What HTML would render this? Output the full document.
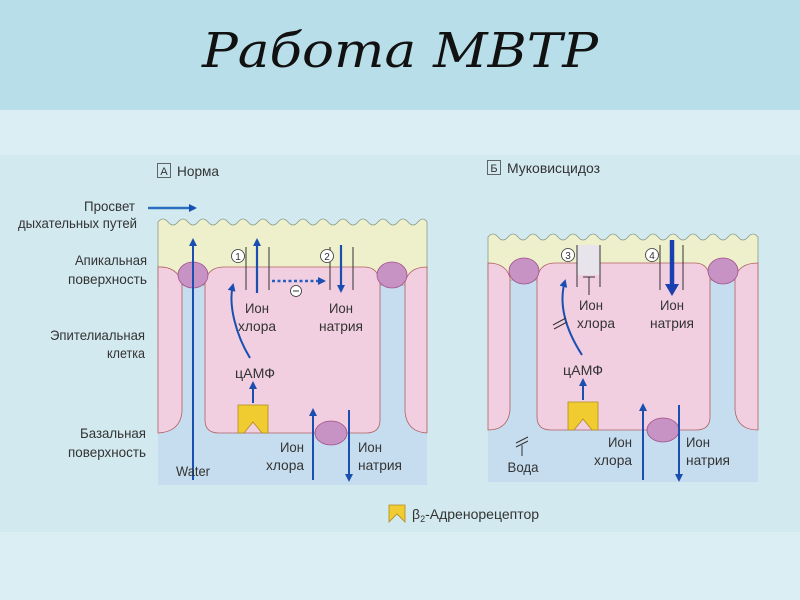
<!DOCTYPE html>
<html><head><meta charset="utf-8"><style>
html,body{margin:0;padding:0;width:800px;height:600px;overflow:hidden;background:#daeef3}
svg{display:block}
text{font-family:"Liberation Sans","DejaVu Sans",sans-serif;fill:#333}
</style></head><body>
<svg width="800" height="600" viewBox="0 0 800 600" xmlns="http://www.w3.org/2000/svg">
<defs>
<marker id="ah" markerWidth="8" markerHeight="8" refX="6" refY="4" orient="auto" markerUnits="userSpaceOnUse"><path d="M0,0 L8,4 L0,8 Z" fill="#1a4fb0"/></marker>
<marker id="ahb" markerWidth="12" markerHeight="14" refX="8" refY="7" orient="auto" markerUnits="userSpaceOnUse"><path d="M0,0 L12,7 L0,14 Z" fill="#1a3fb0"/></marker>
</defs>
<rect x="0" y="0" width="800" height="110" fill="#b8dfe9"/>
<rect x="0" y="110" width="800" height="490" fill="#daeef3"/>
<rect x="0" y="155" width="800" height="377" fill="#d2e9ef"/>
<text x="400" y="67" text-anchor="middle" style="font-family:'DejaVu Serif','Liberation Serif',serif;font-style:italic;font-size:48px;fill:#111" textLength="396" lengthAdjust="spacingAndGlyphs">Работа МВТР</text>

<!-- Panel A -->
<rect x="158" y="267" width="269" height="218" fill="#c6ddef"/>
<path d="M158,222 q5,-6 10,0 q5,6 10,0 q5,-6 10,0 q5,6 10,0 q5,-6 10,0 q5,6 10,0 q5,-6 10,0 q5,6 10,0 q5,-6 10,0 q5,6 10,0 q5,-6 10,0 q5,6 10,0 q5,-6 10,0 q5,6 10,0 q5,-6 10,0 q5,6 10,0 q5,-6 10,0 q5,6 10,0 q5,-6 10,0 q5,6 10,0 q5,-6 10,0 q5,6 10,0 q5,-6 10,0 q5,6 10,0 q5,-6 10,0 q5,6 10,0 q5,-6 9,0 L427,285 L158,285 Z" fill="#eef0cc" stroke="#8a9a8a" stroke-width="0.8"/>
<path d="M158,267 Q176,266 182,282 L182,412 Q180,432 158,433 Z" fill="#f1cfe0" stroke="#b06060" stroke-width="0.8"/>
<path d="M205,282 Q208,267 224,267 L364,267 Q378,267 380,282 L380,420 Q380,433 366,433 L219,433 Q205,433 205,420 Z" fill="#f1cfe0" stroke="#b06060" stroke-width="0.8"/>
<path d="M427,267 Q409,267 405,282 L405,412 Q407,432 427,433 Z" fill="#f1cfe0" stroke="#b06060" stroke-width="0.8"/>
<ellipse cx="193" cy="275" rx="15" ry="13" fill="#c793c4" stroke="#a0508a" stroke-width="0.8"/>
<ellipse cx="392" cy="275" rx="15" ry="13" fill="#c793c4" stroke="#a0508a" stroke-width="0.8"/>
<ellipse cx="331" cy="433" rx="16" ry="12" fill="#c793c4" stroke="#a0508a" stroke-width="0.8"/>
<path d="M238,405 L268,405 L268,433 L262,433 L253,422 L244,433 L238,433 Z" fill="#f0cc30" stroke="#b08a20" stroke-width="0.8"/>
<line x1="193" y1="480" x2="193" y2="240" stroke="#1a4fb0" stroke-width="2" marker-end="url(#ah)"/>
<line x1="148" y1="208" x2="195" y2="208" stroke="#2a6fc0" stroke-width="2.5" marker-end="url(#ah)"/>
<line x1="246" y1="247" x2="246" y2="290" stroke="#333" stroke-width="1"/>
<line x1="269" y1="247" x2="269" y2="290" stroke="#333" stroke-width="1"/>
<line x1="257" y1="293" x2="257" y2="240" stroke="#1a4fb0" stroke-width="2.2" marker-end="url(#ah)"/>
<circle cx="238" cy="256" r="6.5" fill="#fff" stroke="#333" stroke-width="0.8"/><text x="238" y="260" font-size="10" text-anchor="middle">1</text>
<line x1="330" y1="247" x2="330" y2="290" stroke="#333" stroke-width="1"/>
<line x1="353" y1="247" x2="353" y2="290" stroke="#333" stroke-width="1"/>
<line x1="341" y1="245" x2="341" y2="291" stroke="#1a4fb0" stroke-width="2.2" marker-end="url(#ah)"/>
<circle cx="327" cy="256" r="6.5" fill="#fff" stroke="#333" stroke-width="0.8"/><text x="327" y="260" font-size="10" text-anchor="middle">2</text>
<line x1="272" y1="281" x2="324" y2="281" stroke="#2a5fc0" stroke-width="2.5" stroke-dasharray="3,2.5" marker-end="url(#ah)"/>
<circle cx="296" cy="291" r="5.5" fill="#fff" stroke="#333" stroke-width="0.8"/><line x1="293" y1="291" x2="299" y2="291" stroke="#333"/>
<path d="M250,358 C236,335 228,305 233,285" fill="none" stroke="#1a4fb0" stroke-width="2" marker-end="url(#ah)"/>
<line x1="253" y1="403" x2="253" y2="383" stroke="#1a4fb0" stroke-width="2" marker-end="url(#ah)"/>
<g font-size="14" text-anchor="middle" lengthAdjust="spacingAndGlyphs">
<text x="257" y="313" textLength="24" lengthAdjust="spacingAndGlyphs">Ион</text><text x="257" y="331" textLength="38" lengthAdjust="spacingAndGlyphs">хлора</text>
<text x="341" y="313" textLength="24" lengthAdjust="spacingAndGlyphs">Ион</text><text x="341" y="331" textLength="44" lengthAdjust="spacingAndGlyphs">натрия</text>
<text x="255" y="378" textLength="40" lengthAdjust="spacingAndGlyphs">цАМФ</text>
<text x="193" y="476" textLength="34" lengthAdjust="spacingAndGlyphs">Water</text>
</g>
<line x1="313" y1="480" x2="313" y2="410" stroke="#1a4fb0" stroke-width="2" marker-end="url(#ah)"/>
<line x1="349" y1="410" x2="349" y2="480" stroke="#1a4fb0" stroke-width="2" marker-end="url(#ah)"/>
<g font-size="14" text-anchor="end">
<text x="304" y="452" textLength="24" lengthAdjust="spacingAndGlyphs">Ион</text><text x="304" y="470" textLength="38" lengthAdjust="spacingAndGlyphs">хлора</text>
<text x="135" y="211" textLength="51" lengthAdjust="spacingAndGlyphs">Просвет</text><text x="137" y="228" textLength="119" lengthAdjust="spacingAndGlyphs">дыхательных путей</text>
<text x="147" y="265" textLength="72" lengthAdjust="spacingAndGlyphs">Апикальная</text><text x="147" y="284" textLength="79" lengthAdjust="spacingAndGlyphs">поверхность</text>
<text x="145" y="340" textLength="95" lengthAdjust="spacingAndGlyphs">Эпителиальная</text><text x="145" y="358" textLength="38" lengthAdjust="spacingAndGlyphs">клетка</text>
<text x="146" y="438" textLength="66" lengthAdjust="spacingAndGlyphs">Базальная</text><text x="146" y="457" textLength="78" lengthAdjust="spacingAndGlyphs">поверхность</text>
</g>
<g font-size="14"><text x="358" y="452" textLength="24" lengthAdjust="spacingAndGlyphs">Ион</text><text x="358" y="470" textLength="44" lengthAdjust="spacingAndGlyphs">натрия</text></g>
<rect x="157.5" y="163.5" width="13" height="14" fill="none" stroke="#444" stroke-width="0.8"/>
<text x="164" y="175" font-size="11" text-anchor="middle">A</text>
<text x="177" y="176" font-size="14" textLength="42" lengthAdjust="spacingAndGlyphs">Норма</text>

<!-- Panel B -->
<rect x="488" y="263" width="270" height="219" fill="#c6ddef"/>
<path d="M488,237 q5,-6 10,0 q5,6 10,0 q5,-6 10,0 q5,6 10,0 q5,-6 10,0 q5,6 10,0 q5,-6 10,0 q5,6 10,0 q5,-6 10,0 q5,6 10,0 q5,-6 10,0 q5,6 10,0 q5,-6 10,0 q5,6 10,0 q5,-6 10,0 q5,6 10,0 q5,-6 10,0 q5,6 10,0 q5,-6 10,0 q5,6 10,0 q5,-6 10,0 q5,6 10,0 q5,-6 10,0 q5,6 10,0 q5,-6 10,0 q5,6 10,0 q5,-6 10,0 L758,280 L488,280 Z" fill="#eef0cc" stroke="#8a9a8a" stroke-width="0.8"/>
<path d="M488,263 Q506,263 510,278 L510,410 Q508,430 488,430 Z" fill="#f1cfe0" stroke="#b06060" stroke-width="0.8"/>
<path d="M537,278 Q540,263 555,263 L695,263 Q708,263 710,278 L710,417 Q710,430 696,430 L551,430 Q537,430 537,417 Z" fill="#f1cfe0" stroke="#b06060" stroke-width="0.8"/>
<path d="M758,263 Q739,263 735,278 L735,410 Q737,430 758,430 Z" fill="#f1cfe0" stroke="#b06060" stroke-width="0.8"/>
<ellipse cx="524" cy="271" rx="15" ry="13" fill="#c793c4" stroke="#a0508a" stroke-width="0.8"/>
<ellipse cx="723" cy="271" rx="15" ry="13" fill="#c793c4" stroke="#a0508a" stroke-width="0.8"/>
<ellipse cx="663" cy="430" rx="16" ry="12" fill="#c793c4" stroke="#a0508a" stroke-width="0.8"/>
<path d="M568,402 L598,402 L598,430 L592,430 L583,419 L574,430 L568,430 Z" fill="#f0cc30" stroke="#b08a20" stroke-width="0.8"/>
<rect x="577" y="245" width="23" height="30" fill="#e8e4ec"/>
<line x1="577" y1="245" x2="577" y2="287" stroke="#333" stroke-width="1"/>
<line x1="600" y1="245" x2="600" y2="287" stroke="#333" stroke-width="1"/>
<line x1="583" y1="277" x2="595" y2="277" stroke="#333" stroke-width="1"/>
<line x1="589" y1="277" x2="589" y2="295" stroke="#333" stroke-width="1"/>
<circle cx="568" cy="255" r="6.5" fill="#fff" stroke="#333" stroke-width="0.8"/><text x="568" y="259" font-size="10" text-anchor="middle">3</text>
<line x1="660" y1="245" x2="660" y2="290" stroke="#333" stroke-width="1"/>
<line x1="683" y1="245" x2="683" y2="290" stroke="#333" stroke-width="1"/>
<line x1="672" y1="240" x2="672" y2="292" stroke="#1a3fb0" stroke-width="4.5" marker-end="url(#ahb)"/>
<circle cx="652" cy="255" r="6.5" fill="#fff" stroke="#333" stroke-width="0.8"/><text x="652" y="259" font-size="10" text-anchor="middle">4</text>
<path d="M582,355 C566,330 558,305 565,281" fill="none" stroke="#1a4fb0" stroke-width="2" marker-end="url(#ah)"/>
<line x1="553" y1="325" x2="566" y2="318" stroke="#333" stroke-width="1"/>
<line x1="554" y1="329" x2="567" y2="322" stroke="#333" stroke-width="1"/>
<line x1="583" y1="400" x2="583" y2="380" stroke="#1a4fb0" stroke-width="2" marker-end="url(#ah)"/>
<g font-size="14" text-anchor="middle">
<text x="591" y="310" textLength="24" lengthAdjust="spacingAndGlyphs">Ион</text><text x="596" y="328" textLength="38" lengthAdjust="spacingAndGlyphs">хлора</text>
<text x="672" y="310" textLength="24" lengthAdjust="spacingAndGlyphs">Ион</text><text x="672" y="328" textLength="44" lengthAdjust="spacingAndGlyphs">натрия</text>
<text x="583" y="375" textLength="40" lengthAdjust="spacingAndGlyphs">цАМФ</text>
<text x="523" y="472" textLength="31" lengthAdjust="spacingAndGlyphs">Вода</text>
</g>
<line x1="516" y1="443" x2="528" y2="437" stroke="#333" stroke-width="1"/>
<line x1="516" y1="447" x2="528" y2="441" stroke="#333" stroke-width="1"/>
<line x1="522" y1="445" x2="522" y2="456" stroke="#333" stroke-width="1"/>
<line x1="643" y1="480" x2="643" y2="405" stroke="#1a4fb0" stroke-width="2" marker-end="url(#ah)"/>
<line x1="679" y1="405" x2="679" y2="480" stroke="#1a4fb0" stroke-width="2" marker-end="url(#ah)"/>
<g font-size="14"><text x="632" y="447" text-anchor="end" textLength="24" lengthAdjust="spacingAndGlyphs">Ион</text><text x="632" y="465" text-anchor="end" textLength="38" lengthAdjust="spacingAndGlyphs">хлора</text>
<text x="686" y="447" textLength="24" lengthAdjust="spacingAndGlyphs">Ион</text><text x="686" y="465" textLength="44" lengthAdjust="spacingAndGlyphs">натрия</text></g>
<rect x="487.5" y="160.5" width="13" height="14" fill="none" stroke="#444" stroke-width="0.8"/>
<text x="494" y="172" font-size="11" text-anchor="middle">Б</text>
<text x="507" y="173" font-size="14" textLength="93" lengthAdjust="spacingAndGlyphs">Муковисцидоз</text>

<!-- legend -->
<path d="M389,505 L405,505 L405,522 L397,514 L389,522 Z" fill="#f0cc30" stroke="#b08a20" stroke-width="0.8"/>
<text x="412" y="519" font-size="14">β<tspan font-size="9" dy="3">2</tspan><tspan dy="-3" textLength="114" lengthAdjust="spacingAndGlyphs">-Адренорецептор</tspan></text>
</svg>
</body></html>
